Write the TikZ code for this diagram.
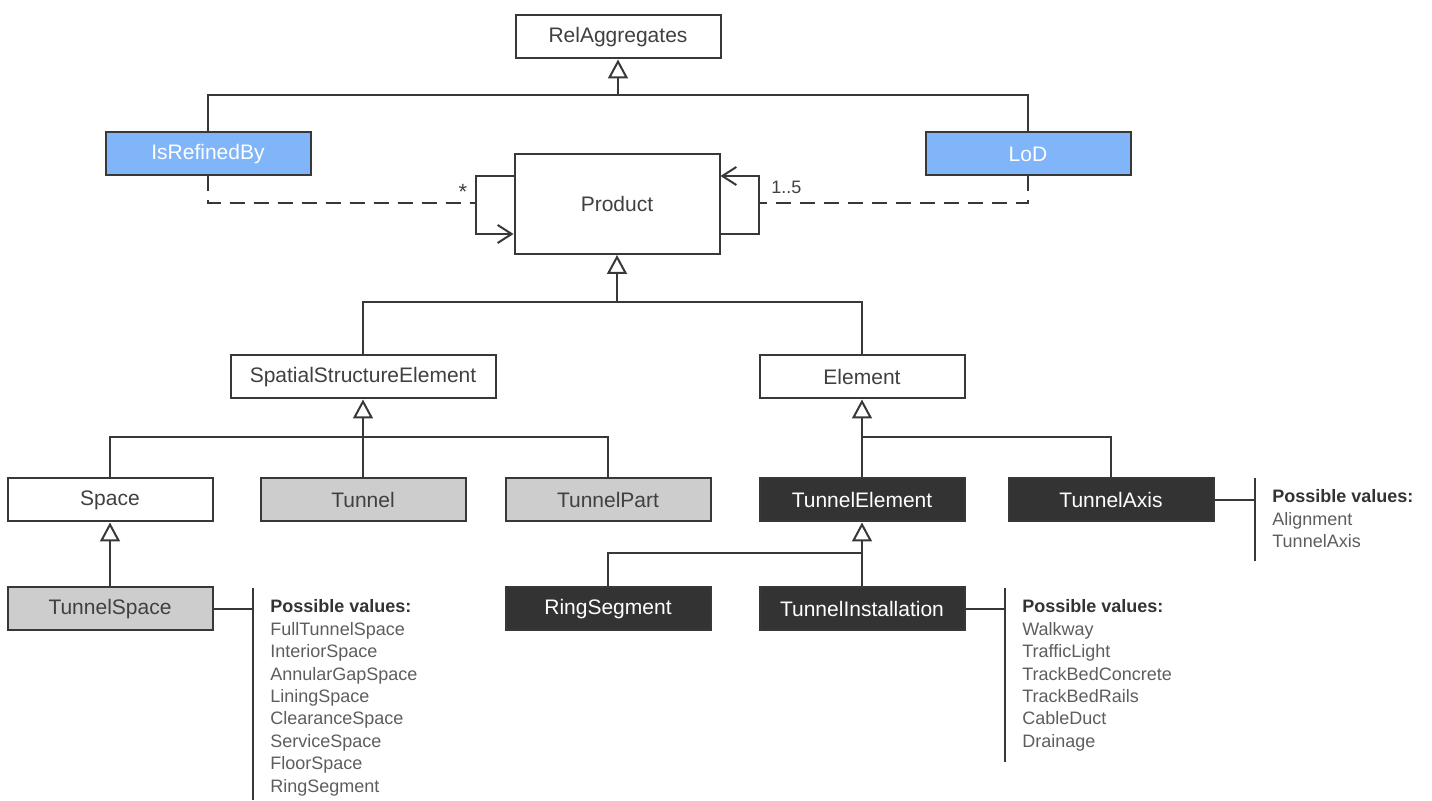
\documentclass[tikz,border=0pt]{standalone}
\usepackage{fontspec}
\setmainfont{Liberation Sans}
\usepackage{tikz}
\usetikzlibrary{arrows.meta}

\definecolor{lineclr}{HTML}{383838}
\definecolor{txtclr}{HTML}{404040}
\definecolor{blueclr}{HTML}{80B5F9}
\definecolor{grayclr}{HTML}{CDCDCD}
\definecolor{darkclr}{HTML}{333333}

\begin{document}
\begin{tikzpicture}[x=0.5pt, y=-0.5pt,
    cls/.style={draw=lineclr, line width=1pt, minimum width=102.5pt, minimum height=21.5pt,
                inner sep=0pt, text=txtclr, font=\fontsize{10.5}{12}\selectfont},
    plain/.style={cls, fill=white},
    blue/.style={cls, fill=blueclr, text=white},
    grey/.style={cls, fill=grayclr},
    dark/.style={cls, fill=darkclr, text=white},
    conn/.style={draw=lineclr, line width=1pt},
    gen/.style={conn, -{Triangle[open, length=9.5pt, width=10pt, line width=1pt]}},
    assoc/.style={conn, -{Straight Barb[length=7pt, width=9pt, line width=1pt]}},
    dep/.style={conn, dash pattern=on 7.5pt off 4.5pt},
    head/.style={anchor=base west, inner sep=0pt, text=darkclr, font=\fontsize{9}{11}\selectfont\bfseries},
    val/.style={anchor=base west, inner sep=0pt, text=txtclr!85!white, font=\fontsize{9}{11}\selectfont}]

    \useasboundingbox (0,0) rectangle (1432,801);

    % classes
    \node[plain] (RelAggregates) at (618,37) {RelAggregates};
    \node[blue] (IsRefinedBy) at (208,154) {IsRefinedBy};
    \node[blue] (LoD) at (1028,154) {LoD};
    \node[plain, minimum height=50pt] (Product) at (617,204) {Product};
    \node[plain, minimum width=132.5pt] (SSE) at (363,377) {SpatialStructureElement};
    \node[plain] (Element) at (862,377) {Element};
    \node[plain] (Space) at (110,500) {Space};
    \node[grey] (Tunnel) at (363,500) {Tunnel};
    \node[grey] (TunnelPart) at (608,500) {TunnelPart};
    \node[dark] (TunnelElement) at (862,500) {TunnelElement};
    \node[dark] (TunnelAxis) at (1111,500) {TunnelAxis};
    \node[grey] (TunnelSpace) at (110,609) {TunnelSpace};
    \node[dark] (RingSegment) at (608,609) {RingSegment};
    \node[dark] (TunnelInstallation) at (862,609) {TunnelInstallation};

    % generalisation bars
    \coordinate (relbar) at (618,95);
    \coordinate (prodbar) at (617,302);
    \coordinate (ssebar) at (363,437);
    \coordinate (elembar) at (862,437);
    \coordinate (tebar) at (862,553);

    \draw[gen] (relbar) -- (RelAggregates.south);
    \draw[conn] (IsRefinedBy.north) |- (relbar) -| (LoD.north);

    \draw[gen] (prodbar) -- (Product.south);
    \draw[conn] (SSE.north) |- (prodbar) -| (Element.north);

    \draw[gen] (ssebar) -- (SSE.south);
    \draw[conn] (Space.north) |- (ssebar) -| (TunnelPart.north);
    \draw[conn] (Tunnel.north) -- (ssebar);

    \draw[gen] (elembar) -- (Element.south);
    \draw[conn] (TunnelElement.north) -- (elembar) -| (TunnelAxis.north);

    \draw[gen] (TunnelSpace.north) -- (Space.south);

    \draw[gen] (tebar) -- (TunnelElement.south);
    \draw[conn] (RingSegment.north) |- (tebar) -- (TunnelInstallation.north);

    % self associations of Product
    \draw[assoc] ([yshift=14pt]Product.west) -- ++(-38,0) coordinate (lloop) |- ([yshift=-15pt]Product.west);
    \draw[assoc] ([yshift=-15pt]Product.east) -- ++(38,0) coordinate (rloop) |- ([yshift=14pt]Product.east);
    \coordinate (refine) at (lloop |- 0,203);
    \coordinate (lodpt) at (rloop |- 0,203);
    \draw[dep] (IsRefinedBy.south) |- (refine);
    \draw[dep] (LoD.south) |- (lodpt);
    \node[text=txtclr, font=\fontsize{11}{12}\selectfont] (star) at (463,192) {*};
    \node[anchor=base west, inner sep=0pt, text=txtclr, font=\fontsize{9}{11}\selectfont] (mult) at (771,194) {1..5};

    % possible values of TunnelSpace
    \coordinate (tsbar) at (253,609);
    \coordinate (tstop) at (253,588);
    \coordinate (tsbot) at (253,800);
    \draw[conn] (TunnelSpace.east) -- (tsbar);
    \draw[conn] (tstop) -- (tsbot);
    \node[head] (tshead) at (270,613) {Possible values:};
    \foreach \v [count=\i] in {FullTunnelSpace, InteriorSpace, AnnularGapSpace, LiningSpace,
                               ClearanceSpace, ServiceSpace, FloorSpace, RingSegment}
        \node[val] (tsval\i) at (270,613+22.4*\i) {\v};

    % possible values of TunnelInstallation
    \coordinate (tibar) at (1005,609);
    \coordinate (titop) at (1005,588);
    \coordinate (tibot) at (1005,762);
    \draw[conn] (TunnelInstallation.east) -- (tibar);
    \draw[conn] (titop) -- (tibot);
    \node[head] (tihead) at (1022,613) {Possible values:};
    \foreach \v [count=\i] in {Walkway, TrafficLight, TrackBedConcrete, TrackBedRails, CableDuct, Drainage}
        \node[val] (tival\i) at (1022,613+22.4*\i) {\v};

    % possible values of TunnelAxis
    \coordinate (tabar) at (1255,500);
    \coordinate (tatop) at (1255,478);
    \coordinate (tabot) at (1255,561);
    \draw[conn] (TunnelAxis.east) -- (tabar);
    \draw[conn] (tatop) -- (tabot);
    \node[head] (tahead) at (1272,503) {Possible values:};
    \foreach \v [count=\i] in {Alignment, TunnelAxis}
        \node[val] (taval\i) at (1272,503+22.4*\i) {\v};
\end{tikzpicture}
\end{document}
